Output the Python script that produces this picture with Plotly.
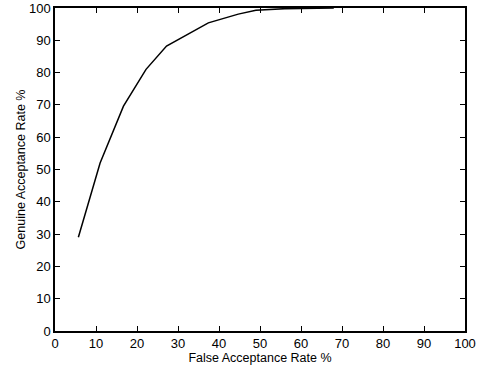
import plotly.graph_objects as go

far = [5.7, 11.0, 16.7, 22.2, 27.2, 37.4, 44.7, 49.0, 56.0, 68.0]
gar = [29.0, 52.0, 69.6, 81.0, 88.2, 95.4, 98.1, 99.3, 99.8, 100.0]
tick_vals = [0, 10, 20, 30, 40, 50, 60, 70, 80, 90, 100]

FONT = "Liberation Sans, Arial"

fig = go.Figure()
fig.add_trace(go.Scatter(x=far, y=gar, mode="lines",
                         line=dict(color="black", width=1.5), showlegend=False))

axis_common = dict(
    range=[0, 100], tickvals=tick_vals, ticks="inside", ticklen=5, tickwidth=1.2,
    tickcolor="black", showline=True, linecolor="black", linewidth=1.5,
    mirror="ticks", showgrid=False, zeroline=False, automargin=False,
    tickfont=dict(family=FONT, size=13, color="black"),
)
fig.update_xaxes(**axis_common,
                 title=dict(text="False Acceptance Rate %", standoff=2,
                            font=dict(family=FONT, size=12.5, color="black")))
fig.update_yaxes(**axis_common,
                 title=dict(text="Genuine Acceptance Rate %", standoff=1,
                            font=dict(family=FONT, size=12.5, color="black")))

fig.update_layout(width=479, height=373, margin=dict(l=55, r=14, t=8, b=42),
                  plot_bgcolor="white", paper_bgcolor="white")
fig.write_html("out.html", config={"displayModeBar": False},
               post_script="document.body.style.margin='0';document.body.style.overflow='hidden';")
